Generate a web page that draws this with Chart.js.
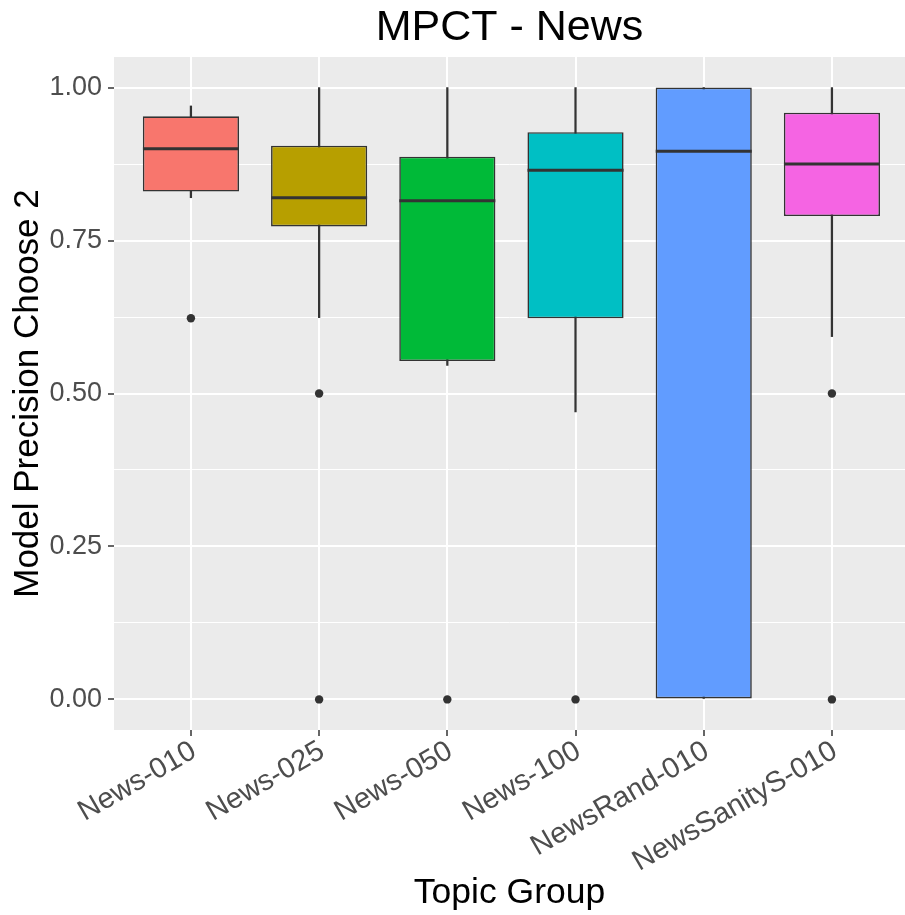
<!DOCTYPE html>
<html>
<head>
<meta charset="utf-8">
<script src="https://cdn.jsdelivr.net/npm/chart.js@4/dist/chart.umd.min.js"></script>
<style>
  html, body { margin: 0; padding: 0; background: #ffffff; overflow: hidden; }
  #chart { display: block; }
</style>
</head>
<body>
<canvas id="chart" width="905" height="915"></canvas>
<script>
// Topic groups along the x axis
const categories = ['News-010', 'News-025', 'News-050', 'News-100', 'NewsRand-010', 'NewsSanityS-010'];

// Five-number summaries per group
const lowerWhisker = [0.820, 0.624, 0.546, 0.470, 0.000, 0.593];
const lowerQuartile = [0.830, 0.773, 0.553, 0.623, 0.000, 0.790];
const medians = [0.900, 0.820, 0.815, 0.865, 0.896, 0.875];
const upperQuartile = [0.953, 0.905, 0.887, 0.927, 1.000, 0.959];
const upperWhisker = [0.970, 1.000, 1.000, 1.000, 1.000, 1.000];

// Points beyond the whiskers
const outliers = [[0.623], [0.5, 0.0], [0.0], [0.0], [], [0.5, 0.0]];

// y-axis tick labels (major) and the minor grid positions between them
const majorTicks = [0, 0.25, 0.5, 0.75, 1];
const majorTickLabels = ['0.00', '0.25', '0.50', '0.75', '1.00'];
const minorTicks = [0.125, 0.375, 0.625, 0.875];

const fillColors = ['#F8766D', '#B79F00', '#00BA38', '#00BFC4', '#619CFF', '#F564E3'];
const ink = '#333333';
const FONT = '"Liberation Sans", Arial, Helvetica, sans-serif';

const whiskerData = categories.map((_, i) => ({ x: i, y: [lowerWhisker[i], upperWhisker[i]] }));
const boxData = categories.map((_, i) => ({ x: i, y: [lowerQuartile[i], upperQuartile[i]] }));
const medianData = categories.map((_, i) => ({ x: i, y: medians[i] }));
const outlierData = [];
outliers.forEach((vals, i) => vals.forEach(v => outlierData.push({ x: i, y: v })));

// Grey panel behind the grid
const panelBackground = {
  id: 'panelBackground',
  beforeDraw(chart) {
    const { ctx, chartArea: a } = chart;
    ctx.save();
    ctx.fillStyle = '#EBEBEB';
    ctx.fillRect(a.left, a.top, a.right - a.left, a.bottom - a.top);
    ctx.restore();
  }
};

const isMajor = v => majorTicks.some(m => Math.abs(m - v) < 1e-9);

new Chart(document.getElementById('chart'), {
  type: 'bar',
  data: {
    datasets: [
      {
        type: 'bar',
        label: 'whiskers',
        data: whiskerData,
        grouped: false,
        backgroundColor: ink,
        borderWidth: 0,
        maxBarThickness: 1.6,
        categoryPercentage: 1,
        barPercentage: 1,
        order: 4
      },
      {
        type: 'bar',
        label: 'boxes',
        data: boxData,
        grouped: false,
        backgroundColor: fillColors,
        borderColor: ink,
        borderWidth: 1.6,
        borderSkipped: false,
        categoryPercentage: 1,
        barPercentage: 0.75,
        order: 3
      },
      {
        type: 'scatter',
        label: 'medians',
        data: medianData,
        pointStyle: 'line',
        pointRadius: 48,
        pointBorderWidth: 3,
        borderColor: ink,
        order: 2
      },
      {
        type: 'scatter',
        label: 'outliers',
        data: outlierData,
        pointStyle: 'circle',
        pointRadius: 4.2,
        pointBorderWidth: 0,
        backgroundColor: ink,
        borderColor: ink,
        order: 1
      }
    ]
  },
  options: {
    responsive: false,
    animation: false,
    devicePixelRatio: 1,
    layout: { padding: 0, autoPadding: false },
    plugins: {
      legend: { display: false },
      tooltip: { enabled: false },
      title: {
        display: true,
        text: 'MPCT - News',
        fullSize: false,
        color: '#000000',
        font: { family: FONT, size: 43, weight: 'normal', lineHeight: 1.2 },
        padding: { top: 2, bottom: 3.4 }
      }
    },
    scales: {
      x: {
        type: 'linear',
        min: -0.6,
        max: 5.57,
        offset: false,
        afterBuildTicks(scale) {
          scale.ticks = categories.map((_, i) => ({ value: i }));
        },
        afterFit(scale) { scale.height = 185; },
        border: { display: false },
        grid: {
          offset: false,
          color: '#FFFFFF',
          lineWidth: 2,
          drawTicks: true,
          tickLength: 6,
          tickColor: ink,
          tickWidth: 1.5
        },
        ticks: {
          autoSkip: false,
          minRotation: 30,
          maxRotation: 30,
          padding: -2,
          labelOffset: 3,
          color: '#4D4D4D',
          font: { family: FONT, size: 29 },
          callback: v => categories[v]
        },
        title: {
          display: true,
          text: 'Topic Group',
          color: '#000000',
          font: { family: FONT, size: 35.5, lineHeight: 1.2 },
          padding: { top: 0, bottom: 0 }
        }
      },
      y: {
        type: 'linear',
        min: -0.05,
        max: 1.05,
        afterBuildTicks(scale) {
          scale.ticks = majorTicks.concat(minorTicks).sort((a, b) => a - b).map(v => ({ value: v }));
        },
        afterFit(scale) { scale.width = 114; },
        border: { display: false },
        grid: {
          color: '#FFFFFF',
          lineWidth: c => (isMajor(c.tick.value) ? 2 : 1),
          drawTicks: true,
          tickLength: 6,
          tickColor: c => (isMajor(c.tick.value) ? ink : 'rgba(0,0,0,0)'),
          tickWidth: 1.5
        },
        ticks: {
          autoSkip: false,
          padding: 6,
          color: '#4D4D4D',
          font: { family: FONT, size: 27 },
          callback: v => {
            const k = majorTicks.findIndex(m => Math.abs(m - v) < 1e-9);
            return k >= 0 ? majorTickLabels[k] : '';
          }
        },
        title: {
          display: true,
          text: 'Model Precision Choose 2',
          color: '#000000',
          font: { family: FONT, size: 35, lineHeight: 1.2 },
          padding: { top: 7, bottom: 0 }
        }
      }
    }
  },
  plugins: [panelBackground]
});
</script>
</body>
</html>
